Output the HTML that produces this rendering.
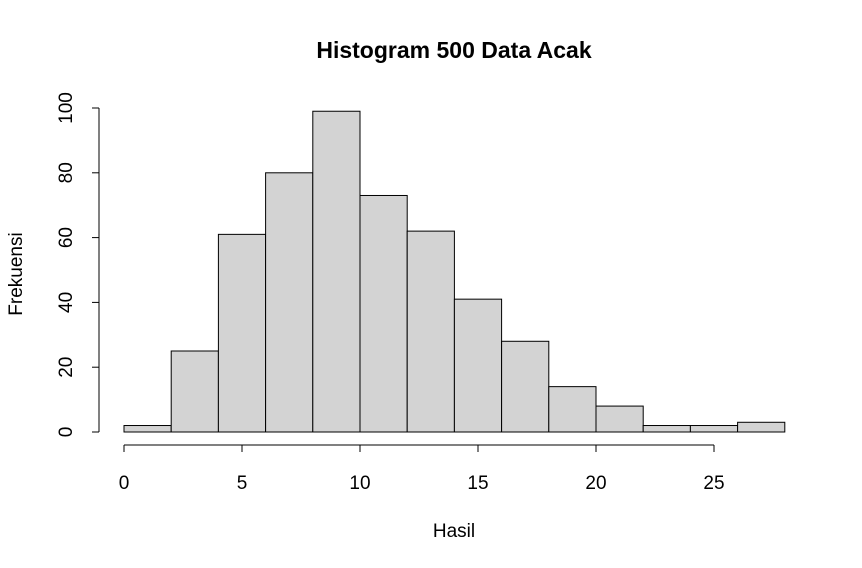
<!DOCTYPE html>
<html><head><meta charset="utf-8"><style>
body{margin:0;background:#fff}
svg{display:block;font-family:"Liberation Sans",Arial,sans-serif}
</style></head><body>
<svg id="chart" width="862" height="568">
<text x="454" y="58" text-anchor="middle" font-size="23" font-weight="bold">Histogram 500 Data Acak</text>
<text x="454" y="537" text-anchor="middle" font-size="19">Hasil</text>
<text transform="translate(22,274) rotate(-90)" text-anchor="middle" font-size="19">Frekuensi</text>
<g id="bars"></g><g id="xaxis"></g><g id="yaxis"></g>
</svg>
<script>
const binStarts=[0,2,4,6,8,10,12,14,16,18,20,22,24,26];
const binWidth=2;
const counts=[2,25,61,80,99,73,62,41,28,14,8,2,2,3];
const xTicks=[0,5,10,15,20,25];
const yTicks=[0,20,40,60,80,100];
const NS="http://www.w3.org/2000/svg";
const xs=v=>124+v*23.6;
const ys=v=>432-v*3.24;
function mk(t,a,p){const e=document.createElementNS(NS,t);for(const k in a)e.setAttribute(k,a[k]);p.appendChild(e);return e;}
const bars=document.getElementById('bars');
binStarts.forEach((s,i)=>{
  const r=mk('rect',{x:xs(s),y:ys(counts[i]),width:xs(s+binWidth)-xs(s),height:ys(0)-ys(counts[i]),fill:'#d3d3d3',stroke:'#000','stroke-width':1},bars);
  
  
});
const xa=document.getElementById('xaxis');
mk('line',{x1:xs(xTicks[0]),x2:xs(xTicks[xTicks.length-1]),y1:445,y2:445,stroke:'#000'},xa);
xTicks.forEach(t=>{
  mk('line',{x1:xs(t),x2:xs(t),y1:445,y2:452,stroke:'#000'},xa);
  const tx=mk('text',{x:xs(t),y:489,'text-anchor':'middle','font-size':19},xa);
  tx.textContent=t;
  
  
});
const ya=document.getElementById('yaxis');
mk('line',{x1:99,x2:99,y1:ys(yTicks[0]),y2:ys(yTicks[yTicks.length-1]),stroke:'#000'},ya);
yTicks.forEach(t=>{
  mk('line',{x1:92,x2:99,y1:ys(t),y2:ys(t),stroke:'#000'},ya);
  const tx=mk('text',{transform:'translate(72,'+ys(t)+') rotate(-90)','text-anchor':'middle','font-size':19},ya);
  tx.textContent=t;
  
  
});
</script>
</body></html>
